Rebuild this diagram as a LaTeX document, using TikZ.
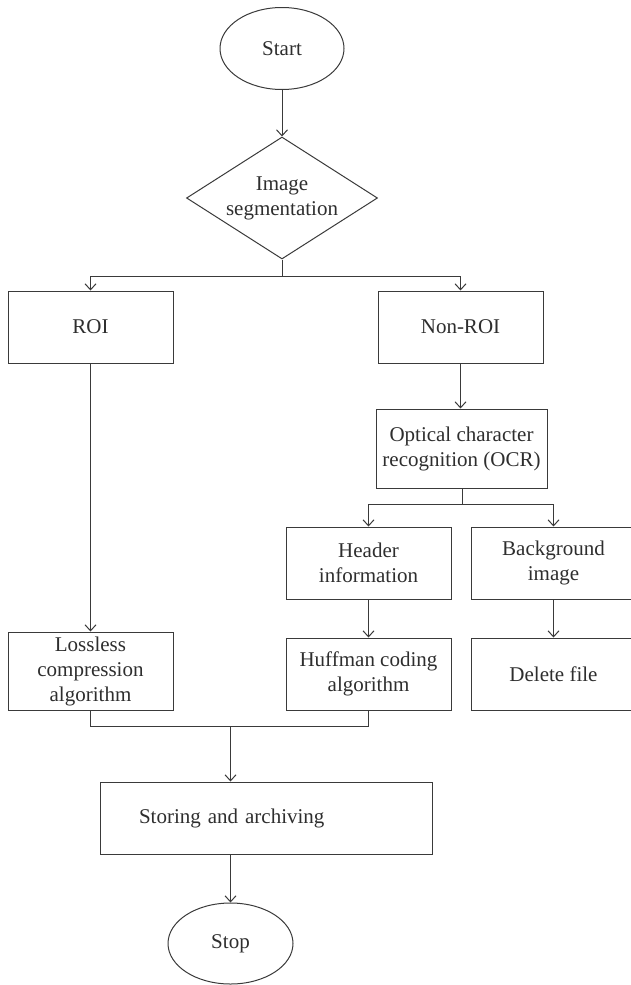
\documentclass[tikz,border=0pt]{standalone}
\usepackage{fontspec}
\setmainfont{Liberation Serif}
\usetikzlibrary{shapes.geometric,arrows.meta}
\definecolor{linec}{HTML}{3A3A3A}
\definecolor{textc}{HTML}{2E2E2E}
\tikzset{
  base/.style={draw=linec, line width=1pt, text=textc, inner sep=0pt,
    font=\fontsize{21}{25}\selectfont, align=center},
  boxnode/.style={base, rectangle, minimum width=165pt, minimum height=72pt},
  termnode/.style={base, ellipse, minimum width=124pt, minimum height=82pt},
  decnode/.style={base, diamond, aspect=1.57, minimum width=191pt, minimum height=122pt},
  conn/.style={draw=linec, line width=1pt},
  arr/.style={conn, -{Straight Barb[length=6pt,width=11pt]}}
}
\begin{document}
\begin{tikzpicture}[x=1pt,y=-1pt]
\useasboundingbox (0,0) rectangle (630,985);
\node[termnode] (start) at (282,48.5) {Start};
\node[decnode] (seg) at (282,198) {Image\\segmentation};
\node[boxnode] (roi) at (90.5,327) {ROI};
\node[boxnode] (nonroi) at (460.5,327) {Non-ROI};
\node[boxnode, minimum width=171pt, minimum height=79pt] (ocr) at (461.5,448.5) {Optical character\\recognition (OCR)};
\node[boxnode] (header) at (368.5,563) {Header\\information};
\node[boxnode] (bg) at (553.5,563) {Background\\image};
\node[boxnode] (huff) at (368.5,674) {Huffman coding\\algorithm};
\node[boxnode] (del) at (553.5,674) {Delete file};
\node[boxnode, minimum height=78pt] (loss) at (90.5,671) {Lossless\\compression\\algorithm};
\node[base, rectangle, text width=254pt, align=left, inner xsep=39pt, minimum height=72pt] (store) at (266,818) {Storing and archiving};
\node[termnode, minimum width=125pt, minimum height=81pt] (stop) at (230.5,943.5) {Stop};

\coordinate (b1) at (282,276);
\coordinate (b2) at (462,504);
\coordinate (b3) at (230.5,726);

\draw[arr] (start) -- (seg);
\draw[conn] (seg.south) -- (b1);
\draw[arr] (b1) -| (roi.north);
\draw[arr] (b1) -| (nonroi.north);
\draw[arr] (roi) -- (loss);
\draw[arr] (nonroi.south) -- (nonroi.south |- ocr.north);
\draw[conn] (ocr.south -| b2) -- (b2);
\draw[arr] (b2) -| (header.north);
\draw[arr] (b2) -| (bg.north);
\draw[arr] (header) -- (huff);
\draw[arr] (bg) -- (del);
\draw[conn] (loss.south) |- (b3);
\draw[conn] (huff.south) |- (b3);
\draw[arr] (b3) -- (b3 |- store.north);
\draw[arr] (stop.north |- store.south) -- (stop.north);
\end{tikzpicture}
\end{document}
